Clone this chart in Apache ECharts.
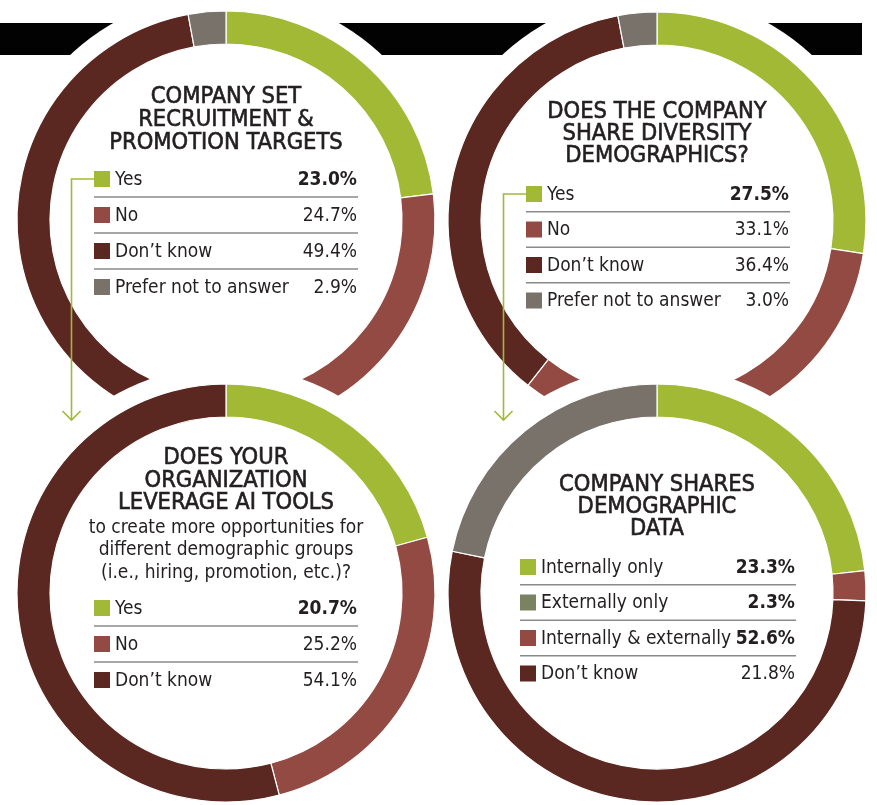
<!DOCTYPE html>
<html>
<head>
<meta charset="utf-8">
<title>Diversity data practices</title>
<script src="https://cdn.jsdelivr.net/npm/echarts@6/dist/echarts.min.js"></script>
<style>
  html, body { margin: 0; padding: 0; background: #ffffff; }
  #chart { width: 877px; height: 805px; }
</style>
</head>
<body>
<div id="chart"></div>
<script>
// ---- data ----
const targetsLabels = ['Yes', 'No', 'Don\u2019t know', 'Prefer not to answer'];
const targetsValues = [23.0, 24.7, 49.4, 2.9];

const shareLabels = ['Yes', 'No', 'Don\u2019t know', 'Prefer not to answer'];
const shareValues = [27.5, 33.1, 36.4, 3.0];

const aiLabels = ['Yes', 'No', 'Don\u2019t know'];
const aiValues = [20.7, 25.2, 54.1];

const dataLabels = ['Internally only', 'Externally only', 'Internally & externally', 'Don\u2019t know'];
const dataValues = [23.3, 2.3, 52.6, 21.8];

const targetsTitle = ['COMPANY SET', 'RECRUITMENT &', 'PROMOTION TARGETS'];
const shareTitle = ['DOES THE COMPANY', 'SHARE DIVERSITY', 'DEMOGRAPHICS?'];
const aiTitle = ['DOES YOUR', 'ORGANIZATION', 'LEVERAGE AI TOOLS'];
const aiSubtitle = ['to create more opportunities for', 'different demographic groups', '(i.e., hiring, promotion, etc.)?'];
const dataTitle = ['COMPANY SHARES', 'DEMOGRAPHIC', 'DATA'];

// ---- palette ----
const GREEN = '#a2b936';
const RED = '#924a42';
const DARK = '#5b2721';
const GREY = '#78726b';
const OLIVE = '#7a8361';
const INK = '#231f20';

const FONT = '"DejaVu Sans Condensed", "DejaVu Sans", sans-serif';

// ---- layout of the four rings ----
const RING_IN = 176, RING_OUT = 209, CUT_R = 227;
const panels = [
  {
    cx: 226, cy: 220, z: 2,
    labels: targetsLabels, values: targetsValues,
    ringColors: [GREEN, RED, DARK, GREY], keyColors: [GREEN, RED, DARK, GREY],
    bold: [true, false, false, false],
    title: targetsTitle, titleY: 96.5, titleLH: 23, subtitle: null,
    keyX: 94, keyRight: 357, keyY: 179, rowH: 36
  },
  {
    cx: 657, cy: 221, z: 2,
    labels: shareLabels, values: shareValues,
    ringColors: [GREEN, RED, DARK, GREY], keyColors: [GREEN, RED, DARK, GREY],
    bold: [true, false, false, false],
    title: shareTitle, titleY: 112, titleLH: 22, subtitle: null,
    keyX: 526, keyRight: 789, keyY: 194, rowH: 35.5
  },
  {
    cx: 226, cy: 593, z: 4,
    labels: aiLabels, values: aiValues,
    ringColors: [GREEN, RED, DARK], keyColors: [GREEN, RED, DARK],
    bold: [true, false, false],
    title: aiTitle, titleY: 458, titleLH: 22.5, subtitle: aiSubtitle, subY: 528,
    keyX: 94, keyRight: 357, keyY: 608, rowH: 36
  },
  {
    cx: 657, cy: 593, z: 4,
    labels: dataLabels, values: dataValues,
    ringColors: [GREEN, RED, DARK, GREY], keyColors: [GREEN, OLIVE, RED, DARK],
    bold: [true, true, true, false],
    title: dataTitle, titleY: 484.5, titleLH: 22.3, subtitle: null,
    keyX: 520, keyRight: 795, keyY: 567, rowH: 35.5
  }
];

const graphics = [];

// black banner across the top, cut by the white halos of the upper rings
graphics.push({
  type: 'rect', z: 0, silent: true,
  shape: { x: 0, y: 23, width: 862, height: 32 },
  style: { fill: '#020202' }
});

// white halo behind each ring (upper pair first, then lower pair)
panels.forEach(p => {
  graphics.push({
    type: 'circle', z: p.z - 1, silent: true,
    shape: { cx: p.cx, cy: p.cy, r: CUT_R },
    style: { fill: '#ffffff' }
  });
});

// titles, subtitles and value keys
panels.forEach(p => {
  p.title.forEach((line, i) => {
    graphics.push({
      type: 'text', z: 10, silent: true,
      x: p.cx, y: p.titleY + i * p.titleLH,
      style: {
        text: line, fill: INK, font: '23.5px ' + FONT,
        stroke: INK, lineWidth: 0.6,
        textAlign: 'center', textVerticalAlign: 'middle'
      }
    });
  });
  if (p.subtitle) {
    p.subtitle.forEach((line, i) => {
      graphics.push({
        type: 'text', z: 10, silent: true,
        x: p.cx, y: p.subY + i * 22.5,
        style: {
          text: line, fill: INK, font: '19px ' + FONT,
          textAlign: 'center', textVerticalAlign: 'middle'
        }
      });
    });
  }
  p.labels.forEach((lab, i) => {
    const y = p.keyY + i * p.rowH;
    graphics.push({
      type: 'rect', z: 10, silent: true,
      shape: { x: p.keyX, y: y - 8, width: 16, height: 16 },
      style: { fill: p.keyColors[i] }
    });
    graphics.push({
      type: 'text', z: 10, silent: true,
      x: p.keyX + 21, y: y + 1,
      style: {
        text: lab, fill: INK, font: '19px ' + FONT,
        textAlign: 'left', textVerticalAlign: 'middle'
      }
    });
    graphics.push({
      type: 'text', z: 10, silent: true,
      x: p.keyRight, y: y + 1,
      style: {
        text: p.values[i].toFixed(1) + '%', fill: INK,
        font: (p.bold[i] ? 'bold ' : '') + '19px ' + FONT,
        textAlign: 'right', textVerticalAlign: 'middle'
      }
    });
    if (i < p.labels.length - 1) {
      const ly = y + p.rowH / 2;
      graphics.push({
        type: 'line', z: 10, silent: true,
        shape: { x1: p.keyX, y1: ly, x2: p.keyRight + 1, y2: ly },
        style: { stroke: '#8a8a8a', lineWidth: 1.5 }
      });
    }
  });
});

// green pointers from the "Yes" keys of the upper rings down to the lower rings
[panels[0], panels[1]].forEach(p => {
  const vx = p.keyX - 22.5;
  const y0 = p.keyY;
  graphics.push({
    type: 'polyline', z: 10, silent: true,
    shape: { points: [[p.keyX, y0], [vx, y0], [vx, 420]] },
    style: { stroke: GREEN, lineWidth: 1.6, fill: null }
  });
  graphics.push({
    type: 'polyline', z: 10, silent: true,
    shape: { points: [[vx - 9, 411], [vx, 420], [vx + 9, 411]] },
    style: { stroke: GREEN, lineWidth: 1.6, fill: null }
  });
});

const series = panels.map(p => ({
  type: 'pie',
  z: p.z,
  center: [p.cx, p.cy],
  radius: [RING_IN, RING_OUT],
  startAngle: 90,
  clockwise: true,
  silent: true,
  label: { show: false },
  labelLine: { show: false },
  itemStyle: { borderColor: '#ffffff', borderWidth: 1.2 },
  emphasis: { disabled: true },
  data: p.values.map((v, i) => ({
    name: p.labels[i], value: v,
    itemStyle: { color: p.ringColors[i] }
  }))
}));

const chart = echarts.init(document.getElementById('chart'), null, { renderer: 'canvas' });
chart.setOption({
  animation: false,
  backgroundColor: '#ffffff',
  series: series,
  graphic: { elements: graphics }
});
</script>
</body>
</html>
